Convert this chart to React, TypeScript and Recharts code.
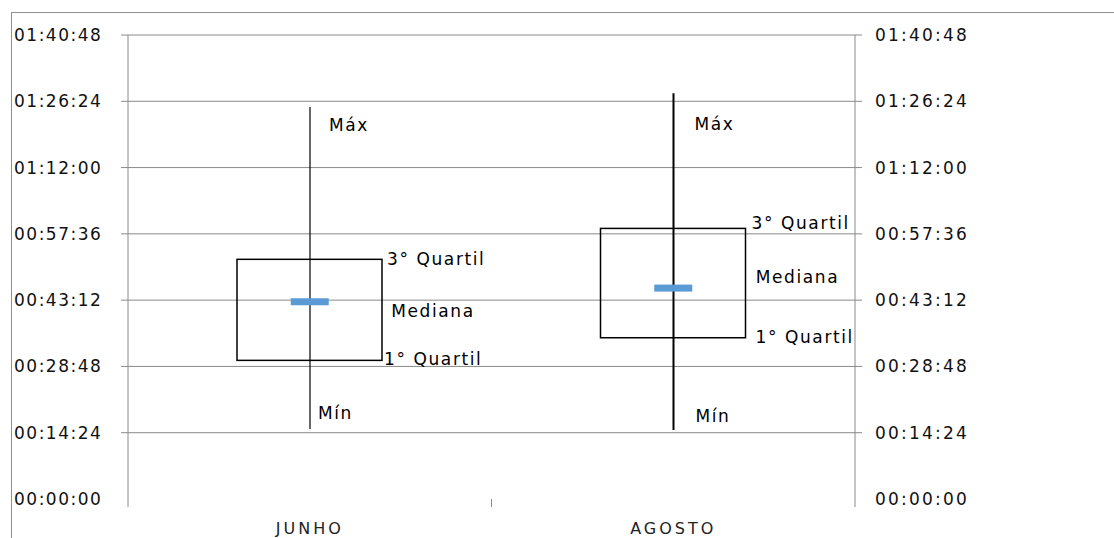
import React from 'react';
import { ComposedChart, Bar, Scatter, XAxis, YAxis, CartesianGrid } from 'recharts';

// Tempos de atendimento por mês (hh:mm:ss)
const months = ['JUNHO', 'AGOSTO'];
const minTimes = ['00:15:12', '00:15:00'];
const q1Times = ['00:30:07', '00:35:02'];
const medianTimes = ['00:42:51', '00:45:49'];
const q3Times = ['00:52:04', '00:58:47'];
const maxTimes = ['01:25:09', '01:28:10'];
const axisTicks = [
  '00:00:00', '00:14:24', '00:28:48', '00:43:12',
  '00:57:36', '01:12:00', '01:26:24', '01:40:48',
];

const toSeconds = (t: string) => {
  const [h, m, s] = t.split(':').map(Number);
  return h * 3600 + m * 60 + s;
};
const pad = (n: number) => String(n).padStart(2, '0');
const toClock = (sec: number) =>
  `${pad(Math.floor(sec / 3600))}:${pad(Math.floor((sec % 3600) / 60))}:${pad(sec % 60)}`;

const tickSeconds = axisTicks.map(toSeconds);
const yMax = tickSeconds[tickSeconds.length - 1];

const data = months.map((month, i) => ({
  month,
  whisker: [toSeconds(minTimes[i]), toSeconds(maxTimes[i])],
  box: [toSeconds(q1Times[i]), toSeconds(q3Times[i])],
  median: toSeconds(medianTimes[i]),
}));

const FONT = "'DejaVu Sans', sans-serif";
const GRID = '#8a8a8a';
const BOX_W = 145;

// deslocamento dos rótulos em relação a cada marca [dx, dy]
const LABEL_NUDGE: Record<string, Record<string, [number, number]>> = {
  JUNHO: { max: [19, 24], min: [8, -10], q3: [5, 6], median: [9, 15], q1: [2, 5] },
  AGOSTO: { max: [21, 37], min: [22, -8], q3: [6, 1], median: [10, -5], q1: [10, 5] },
};
const WHISKER_WIDTH: Record<string, number> = { JUNHO: 1.2, AGOSTO: 2 };

const Label = ({ x, y, children }: { x: number; y: number; children: React.ReactNode }) => (
  <text x={x} y={y} fontFamily={FONT} fontSize={17} letterSpacing={1.6} fill="#000">
    {children}
  </text>
);

const WhiskerShape = (props: any) => {
  const { x, y, width, height, payload } = props;
  const cx = x + width / 2;
  const n = LABEL_NUDGE[payload.month];
  return (
    <g>
      <line x1={cx} x2={cx} y1={y} y2={y + height} stroke="#000" strokeWidth={WHISKER_WIDTH[payload.month]} />
      <Label x={cx + n.max[0]} y={y + n.max[1]}>Máx</Label>
      <Label x={cx + n.min[0]} y={y + height + n.min[1]}>Mín</Label>
    </g>
  );
};

const BoxShape = (props: any) => {
  const { x, y, width, height, payload } = props;
  const n = LABEL_NUDGE[payload.month];
  const right = x + width;
  return (
    <g>
      <rect x={x} y={y} width={width} height={height} fill="none" stroke="#000" strokeWidth={1.5} />
      <Label x={right + n.q3[0]} y={y + n.q3[1]}>3° Quartil</Label>
      <Label x={right + n.q1[0]} y={y + height + n.q1[1]}>1° Quartil</Label>
    </g>
  );
};

const MedianShape = (props: any) => {
  const { cx, cy, payload } = props;
  const n = LABEL_NUDGE[payload.month];
  return (
    <g>
      <rect x={cx - 19} y={cy - 3.5} width={38} height={7} fill="#5b9bd5" />
      <Label x={cx + BOX_W / 2 + n.median[0]} y={cy + n.median[1]}>Mediana</Label>
    </g>
  );
};

// rótulo de tempo + pequena marca (sem marca no zero)
const TimeTick = (side: 'left' | 'right') => (props: any) => {
  const { y, payload } = props;
  const edge = side === 'left' ? 128 : 855;
  const tx = side === 'left' ? 14 : 875;
  return (
    <g>
      {payload.value > 0 && (
        <line
          x1={edge}
          x2={side === 'left' ? edge - 7 : edge + 7}
          y1={y}
          y2={y}
          stroke={GRID}
        />
      )}
      <text
        x={tx}
        y={y + 6}
        fontFamily={FONT}
        fontSize={17}
        letterSpacing={side === 'left' ? 1.5 : 2.2}
        fill="#111"
      >
        {toClock(payload.value)}
      </text>
    </g>
  );
};
const LeftTick = TimeTick('left');
const RightTick = TimeTick('right');

const MonthTick = (props: any) => {
  const { x, y, payload, index } = props;
  const half = payload.offset ?? 181.75;
  // marcas de divisão entre categorias, abaixo da linha de zero
  const edges = index === 0 ? [x - half, x + half] : [x + half];
  return (
    <g>
      {edges.map((ex: number) => (
        <line key={ex} x1={ex} x2={ex} y1={y} y2={y + 8} stroke={GRID} strokeWidth={1} />
      ))}
      <text x={x} y={y + 35} textAnchor="middle" fontFamily={FONT} fontSize={16} letterSpacing={3} fill="#222">
        {payload.value}
      </text>
    </g>
  );
};

// linhas de grade só acima do zero
const gridRows = ({ offset }: any) => {
  const top = offset?.top ?? 35;
  const h = offset?.height ?? 464;
  return tickSeconds.filter((t) => t > 0).map((t) => top + h * (1 - t / yMax));
};

export default function App() {
  return (
    <div style={{ position: 'relative', width: 1114, height: 538, overflow: 'hidden', background: '#fff' }}>
      <style>{'body{margin:0}'}</style>
      <div
        style={{
          position: 'absolute',
          left: 11,
          top: 12,
          width: 1110,
          height: 560,
          border: '1px solid #8f8f8f',
        }}
      />
      <div style={{ position: 'absolute', left: 0, top: 0 }}>
        <ComposedChart width={1114} height={538} data={data} margin={{ top: 35, right: 0, bottom: 0, left: 0 }}>
          <CartesianGrid vertical={false} stroke={GRID} horizontalCoordinatesGenerator={gridRows} />
          <XAxis
            xAxisId="box"
            dataKey="month"
            height={39}
            axisLine={false}
            tickLine={false}
            tickSize={0}
            tickMargin={0}
            interval={0}
            tick={<MonthTick />}
          />
          <XAxis xAxisId="whisker" dataKey="month" hide />
          <YAxis
            width={128}
            domain={[0, yMax]}
            ticks={tickSeconds}
            interval={0}
            axisLine={{ stroke: GRID }}
            tickLine={false}
            tick={<LeftTick />}
          />
          <YAxis
            yAxisId="right"
            orientation="right"
            width={259}
            domain={[0, yMax]}
            ticks={tickSeconds}
            interval={0}
            axisLine={{ stroke: GRID }}
            tickLine={false}
            tick={<RightTick />}
          />
          <Bar
            xAxisId="whisker"
            yAxisId="right"
            dataKey="whisker"
            barSize={10}
            shape={<WhiskerShape />}
            isAnimationActive={false}
          />
          <Bar xAxisId="box" dataKey="box" barSize={BOX_W} shape={<BoxShape />} isAnimationActive={false} />
          <Scatter xAxisId="box" dataKey="median" shape={<MedianShape />} isAnimationActive={false} />
        </ComposedChart>
      </div>
    </div>
  );
}
